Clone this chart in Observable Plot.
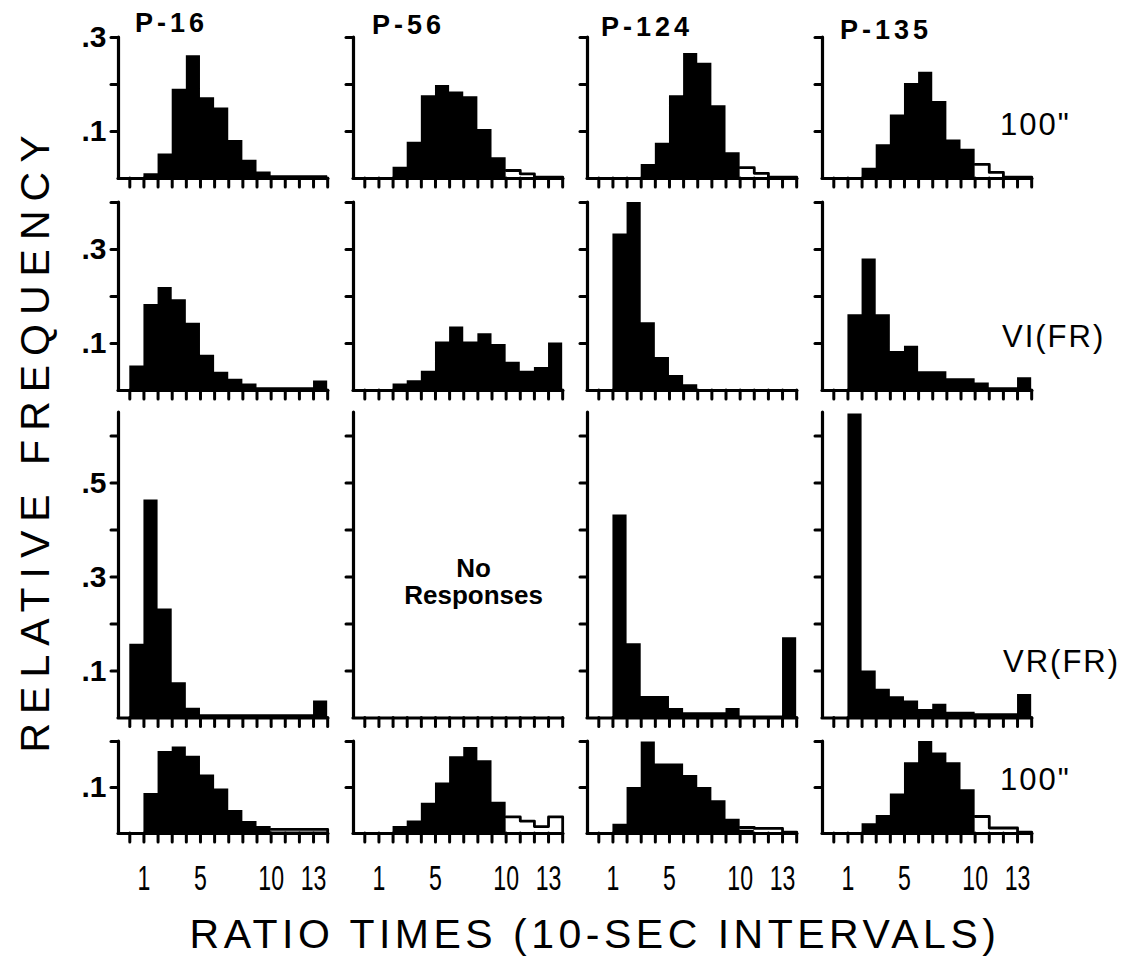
<!DOCTYPE html>
<html><head><meta charset="utf-8">
<script src="https://cdn.jsdelivr.net/npm/d3@7"></script>
<script src="https://cdn.jsdelivr.net/npm/@observablehq/plot@0.6"></script>
<style>
body { margin:0; background:#fff; }
#fig { position:relative; width:1128px; height:963px; overflow:hidden; background:#fff; font-family:"Liberation Sans", Arial, sans-serif; color:#000; }
.lab { position:absolute; white-space:nowrap; line-height:1; }
.panel { position:absolute; }
.panel g[aria-label$="axis tick"] { stroke-width:3px; stroke-linecap:round; stroke:#000; }
</style></head><body><div id="fig"></div>
<script>
// ---------- categories and labels ----------
const subjects = ["P-16", "P-56", "P-124", "P-135"];
const conditions = ["100\"", "VI(FR)", "VR(FR)", "100\""];
const bins = [0, 1, 2, 3, 4, 5, 6, 7, 8, 9, 10, 11, 12, 13];       // left edge of each 10-sec bin
const xTicks = [0, 1, 2, 3, 4, 5, 6, 7, 8, 9, 10, 11, 12, 13, 14];
const xTickLabels = [1, 5, 10, 13];
const yTop = [0.3, 0.4, 0.65, 0.2];
const yTicksR1 = [0.1, 0.2, 0.3], yLabelsR1 = [0.1, 0.3];
const yTicksR2 = [0.1, 0.2, 0.3, 0.4], yLabelsR2 = [0.1, 0.3];
const yTicksR3 = [0.1, 0.2, 0.3, 0.4, 0.5, 0.6], yLabelsR3 = [0.1, 0.3, 0.5];
const yTicksR4 = [0.1, 0.2], yLabelsR4 = [0.1];

// ---------- row 1 : 100" ----------
const p16_r1  = [0, .010, .052, .190, .261, .172, .150, .081, .039, .014, .006, .006, .006, .006];
const p56_r1  = [0, 0, .024, .077, .176, .198, .184, .174, .104, .044, 0, 0, 0, 0];
const p124_r1 = [0, 0, 0, .030, .075, .176, .266, .245, .155, .055, 0, 0, 0, 0];
const p135_r1 = [0, 0, .022, .072, .135, .202, .226, .164, .082, .062, 0, 0, 0, 0];
const p56_r1_tail  = [null, null, null, null, null, null, null, null, null, null, .017, .010, .003, .003];
const p124_r1_tail = [null, null, null, null, null, null, null, null, null, null, .023, .011, .003, .003];
const p135_r1_tail = [null, null, null, null, null, null, null, null, null, null, .030, .013, .003, .003];

// ---------- row 2 : VI(FR) ----------
const p16_r2  = [.052, .183, .219, .193, .143, .075, .039, .024, .014, .006, .006, .006, .006, .020];
const p56_r2  = [0, 0, .014, .021, .041, .103, .135, .103, .121, .098, .060, .041, .049, .101];
const p124_r2 = [0, .333, .400, .144, .070, .032, .012, 0, 0, 0, 0, 0, 0, 0];
const p135_r2 = [0, .161, .280, .161, .083, .094, .040, .040, .025, .025, .016, .006, .006, .027];

// ---------- row 3 : VR(FR) ----------
const p16_r3  = [.157, .464, .232, .075, .021, .007, .007, .007, .007, .007, .007, .007, .007, .036];
const p56_r3  = null; // No Responses
const p124_r3 = [0, .432, .158, .046, .046, .020, .011, .011, .011, .020, .004, .004, .004, .171];
const p135_r3 = [0, .647, .100, .061, .045, .036, .018, .029, .012, .012, .009, .009, .009, .050];

// ---------- row 4 : 100" ----------
const p16_r4  = [0, .087, .178, .188, .168, .127, .097, .050, .026, .015, .003, .003, .003, .003];
const p56_r4  = [0, 0, .015, .027, .066, .110, .167, .187, .158, .068, 0, 0, 0, 0];
const p124_r4 = [0, .020, .100, .199, .151, .151, .126, .100, .071, .031, .007, 0, 0, 0];
const p135_r4 = [0, 0, .021, .039, .086, .154, .200, .175, .154, .095, 0, 0, 0, 0];
const p16_r4_tail  = [null, null, null, null, null, null, null, null, null, null, .009, .009, .009, .009];
const p56_r4_tail  = [null, null, null, null, null, null, null, null, null, null, .036, .027, .015, .036];
const p124_r4_tail = [null, null, null, null, null, null, null, null, null, null, .013, .011, .011, .003];
const p135_r4_tail = [null, null, null, null, null, null, null, null, null, null, .037, .012, .012, .003];

const rows = [
  {top: yTop[0], ticks: yTicksR1, labels: yLabelsR1, filled: [p16_r1, p56_r1, p124_r1, p135_r1], tails: [null, p56_r1_tail, p124_r1_tail, p135_r1_tail]},
  {top: yTop[1], ticks: yTicksR2, labels: yLabelsR2, filled: [p16_r2, p56_r2, p124_r2, p135_r2], tails: [null, null, null, null]},
  {top: yTop[2], ticks: yTicksR3, labels: yLabelsR3, filled: [p16_r3, p56_r3, p124_r3, p135_r3], tails: [null, null, null, null]},
  {top: yTop[3], ticks: yTicksR4, labels: yLabelsR4, filled: [p16_r4, p56_r4, p124_r4, p135_r4], tails: [p16_r4_tail, p56_r4_tail, p124_r4_tail, p135_r4_tail]}
];

// ---------- layout ----------
const fig = document.getElementById("fig");
const colX = [118, 353, 587, 822];
const rowBase = [178, 390, 717, 833];
const ppu = [470, 470, 470, 460];
const xMin = -0.8, xMax = 14.2, innerW = 212;
const fmt = d => d.toFixed(1).replace(/^0/, "");

rows.forEach((row, r) => {
  subjects.forEach((s, c) => {
    const innerH = row.top * ppu[r];
    const mL = 50, mR = 14, mT = 10, mB = r === 3 ? 70 : 16;
    const marks = [];
    const filled = row.filled[c];
    if (filled) {
      const pts = bins.map((b, i) => ({x: b, v: filled[i]}));
      pts.push({x: bins[bins.length - 1] + 1, v: filled[filled.length - 1]});
      marks.push(Plot.areaY(pts, {x: "x", y: "v", curve: "step-after", fill: "black"}));
    } else {
      marks.push(Plot.text(["No\nResponses"], {x: 7.7, y: 0.29, text: d => d, fontSize: 26, fontWeight: "bold", lineHeight: 1.05, textAnchor: "middle", fill: "black"}));
    }
    const tail = row.tails[c];
    if (tail) {
      const tp = [];
      tail.forEach((v, i) => { if (v != null) tp.push({x: bins[i], v}); });
      const last = tp[tp.length - 1];
      tp.push({x: last.x + 1, v: last.v});
      tp.push({x: last.x + 1, v: 0});
      marks.push(Plot.line(tp, {x: "x", y: "v", curve: "step-after", stroke: "black", strokeWidth: 2.8}));
    }
    marks.push(Plot.ruleY([0], {x1: xMin, x2: 14.05, stroke: "black", strokeWidth: 3.2, strokeLinecap: "round"}));
    marks.push(Plot.ruleX([xMin], {y1: 0, y2: row.top, stroke: "black", strokeWidth: 3.2, strokeLinecap: "round"}));
    marks.push(Plot.axisX({ticks: xTicks, tickSize: 9, tickFormat: () => "", stroke: "black", strokeWidth: 3, strokeLinecap: "round"}));
    marks.push(Plot.axisY({ticks: row.ticks, tickSize: 7, tickFormat: () => "", stroke: "black", strokeWidth: 3, strokeLinecap: "round"}));
    if (c === 0) marks.push(Plot.axisY({ticks: row.labels, tickSize: 0, tickPadding: 12, tickFormat: fmt, fontSize: 30, fontWeight: "bold", fill: "black"}));
    if (r === 3) marks.push(Plot.axisX({ticks: xTickLabels, tickSize: 0, tickPadding: 32, fontSize: 35, fill: "black"}));

    const chart = Plot.plot({
      width: mL + innerW + mR,
      height: mT + innerH + mB,
      marginLeft: mL, marginRight: mR, marginTop: mT, marginBottom: mB,
      x: {domain: [xMin, xMax], label: null},
      y: {domain: [0, row.top], label: null},
      style: {overflow: "visible", background: "transparent", fontFamily: "'Liberation Sans', Arial, sans-serif", color: "black"},
      marks
    });
    // condensed look for the bottom tick numerals (narrow Helvetica in the original)
    chart.querySelectorAll('g[aria-label="x-axis tick label"] text').forEach(t => {
      const tr = t.getAttribute("transform") || "";
      t.setAttribute("transform", tr + " scale(0.66,1)");
    });
    chart.classList.add("panel");
    chart.style.left = (colX[c] - mL) + "px";
    chart.style.top = (rowBase[r] - innerH - mT) + "px";
    fig.appendChild(chart);
  });
});

// ---------- text labels ----------
function label(text, css) {
  const d = document.createElement("div");
  d.className = "lab";
  d.textContent = text;
  Object.assign(d.style, css);
  fig.appendChild(d);
  return d;
}
const titleLeft = [135, 372, 601, 840];
const titleBase = [33, 35, 37, 40];
subjects.forEach((s, i) => label(s, {left: titleLeft[i] + "px", top: (titleBase[i] - 23) + "px", fontSize: "27px", fontWeight: "bold", letterSpacing: "4px"}));
const condLeft = [1000, 1002, 1003, 1000];
const condBase = [135, 347, 672, 790];
conditions.forEach((s, i) => label(s, {left: condLeft[i] + "px", top: (condBase[i] - 26) + "px", fontSize: "31px", letterSpacing: "2px"}));
label("RELATIVE FREQUENCY", {left: "-315px", top: "419px", width: "700px", textAlign: "center", fontSize: "41px", letterSpacing: "9px", transform: "rotate(-90deg)"});
label("RATIO TIMES (10-SEC INTERVALS)", {left: "95px", top: "914px", width: "1000px", textAlign: "center", fontSize: "41px", letterSpacing: "4.5px"});
</script></body></html>
